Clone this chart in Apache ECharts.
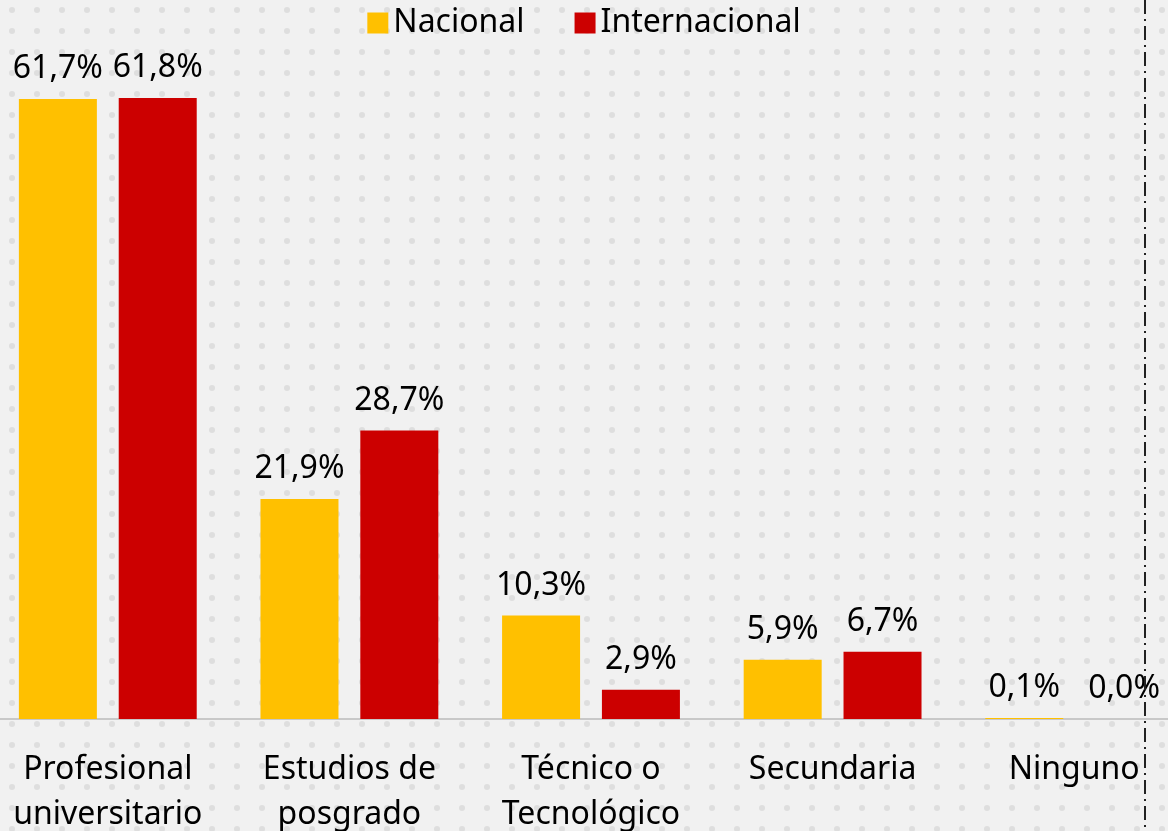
<!DOCTYPE html>
<html>
<head>
<meta charset="utf-8">
<script src="https://cdn.jsdelivr.net/npm/echarts@6/dist/echarts.min.js"></script>
<style>
  html, body { margin: 0; padding: 0; }
  #main { width: 1168px; height: 831px; }
</style>
</head>
<body>
<div id="main"></div>
<script>
  // datos del gráfico
  var categorias = ['Profesional\nuniversitario', 'Estudios de\nposgrado', 'Técnico o\nTecnológico', 'Secundaria', 'Ninguno'];
  var nacional = [61.7, 21.9, 10.3, 5.9, 0.1];
  var internacional = [61.8, 28.7, 2.9, 6.7, 0.0];
  var series_nombres = ['Nacional', 'Internacional'];

  // patrón de puntos para el fondo
  var pat = document.createElement('canvas');
  pat.width = 25; pat.height = 21;
  var ctx = pat.getContext('2d');
  ctx.fillStyle = '#f1f1f1';
  ctx.fillRect(0, 0, 25, 21);
  ctx.fillStyle = '#dedede';
  ctx.beginPath();
  ctx.arc(12, 10, 3, 0, Math.PI * 2);
  ctx.fill();

  var myChart = echarts.init(document.getElementById('main'));
  var fuente = 'Noto Sans';

  function etiqueta(v) {
    return v.value.toFixed(1).replace('.', ',') + '%';
  }

  var option = {
    backgroundColor: { image: pat, repeat: 'repeat' },
    textStyle: { fontFamily: fuente },
    legend: {
      top: 2,
      left: 'center',
      itemWidth: 21,
      itemHeight: 21,
      itemGap: 50,
      icon: 'rect',
      textStyle: { fontSize: 32, color: '#000', fontFamily: fuente },
      data: series_nombres
    },
    grid: { left: -13, width: 1208, top: 0, bottom: 112, outerBoundsMode: 'none', containLabel: false },
    xAxis: {
      type: 'category',
      data: categorias,
      axisLine: { lineStyle: { color: '#c8c8c8', width: 2 } },
      axisTick: { show: false },
      axisLabel: {
        color: '#000',
        fontSize: 32,
        lineHeight: 45,
        margin: 28,
        fontFamily: fuente,
        interval: 0
      }
    },
    yAxis: {
      type: 'value',
      min: 0,
      max: 71.55,
      show: false,
      splitLine: { show: false }
    },
    series: [
      {
        name: series_nombres[0],
        type: 'bar',
        data: nacional,
        barWidth: 78,
        barGap: '28%',
        itemStyle: { color: '#FFC000' },
        label: { show: true, position: 'top', distance: 14, fontSize: 32, color: '#000', fontFamily: fuente, formatter: etiqueta }
      },
      {
        name: series_nombres[1],
        type: 'bar',
        data: internacional,
        barWidth: 78,
        barGap: '28%',
        itemStyle: { color: '#CC0000' },
        label: { show: true, position: 'top', distance: 14, fontSize: 32, color: '#000', fontFamily: fuente, formatter: etiqueta }
      }
    ],
    graphic: [
      {
        type: 'line',
        shape: { x1: 1145, y1: 0, x2: 1145, y2: 831 },
        style: { stroke: '#222', lineWidth: 2, lineDash: [14, 5, 2, 5] },
        z: 10
      }
    ]
  };

  myChart.setOption(option);
</script>
</body>
</html>
